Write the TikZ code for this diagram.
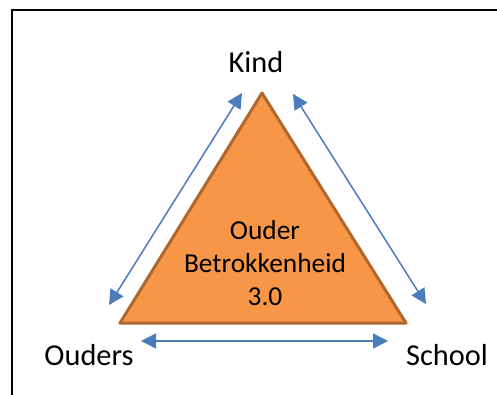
\documentclass[tikz,border=0pt]{standalone}
\usepackage{fontspec}
\setmainfont{Carlito}
\usetikzlibrary{arrows.meta}
\definecolor{triFill}{HTML}{F79646}
\definecolor{triLine}{HTML}{B0672E}
\definecolor{arrBlue}{HTML}{4A7EBB}
\tikzset{
  lbl/.style={font=\fontsize{30.5}{36}\selectfont, text=black, inner sep=0pt},
  biarrow/.style={draw=arrBlue, line width=1.5bp, {Triangle[length=15bp,width=15bp]}-{Triangle[length=15bp,width=15bp]}},
  frameline/.style={draw=black, line width=2bp},
  tri/.style={fill=triFill, draw=triLine, line width=3bp, line join=round}
}
\begin{document}
\begin{tikzpicture}[x=1bp,y=-1bp]
\useasboundingbox (0,0) rectangle (497,394);
\fill[white] (0,0) rectangle (497,394);
\draw[frameline] (12,400) -- (12,10) -- (500,10);
% triangle
\coordinate (top) at (262,93);
\coordinate (bl) at (120,323);
\coordinate (br) at (406,323);
\path[tri] (top) -- (bl) -- (br) -- cycle;
\node[lbl, align=center, font=\fontsize{27.5}{33.5}\selectfont] (center) at (265,263) {Ouder\\Betrokkenheid\\3.0};
% labels
\node[lbl] (kind) at (256,62) {Kind};
\node[lbl] (ouders) at (89,355) {Ouders};
\node[lbl] (school) at (447,355) {School};
% arrow ends
\coordinate (a1) at (109,305);
\coordinate (a2) at (242,93);
\coordinate (b1) at (293,94);
\coordinate (b2) at (426,304);
\coordinate (c1) at (141,341);
\coordinate (c2) at (388,341);
\draw[biarrow] (a1) -- (a2);
\draw[biarrow] (b1) -- (b2);
\draw[biarrow] (c1) -- (c2);
\end{tikzpicture}
\end{document}
